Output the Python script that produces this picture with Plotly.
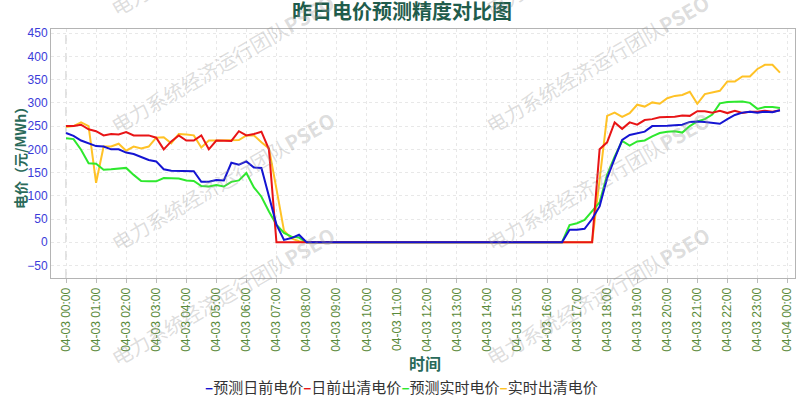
import pandas as pd
import plotly.graph_objects as go

# ---------------- data (15-minute points, 04-03 00:00 .. 23:45) ----------------
times = pd.date_range("2025-04-03 00:00", periods=96, freq="15min")

pred_da = [  # 预测日前电价
    235, 229, 219, 213, 207, 206, 200, 200,
    193, 190, 184, 177, 174, 157, 154, 154,
    154, 153, 130, 130, 134, 133, 171, 167,
    174, 161, 160, 100, 38, 5, 9, 16,
    0, 0, 0, 0, 0, 0, 0, 0,
    0, 0, 0, 0, 0, 0, 0, 0,
    0, 0, 0, 0, 0, 0, 0, 0,
    0, 0, 0, 0, 0, 0, 0, 0,
    0, 0, 0, 27, 27, 29, 50, 77,
    138, 180, 220, 231, 235, 238, 250, 250,
    251, 252, 253, 259, 260, 259, 257, 255,
    265, 274, 279, 281, 279, 281, 280, 284,
]

clear_da = [  # 日前出清电价
    250, 250, 253, 243, 239, 230, 233, 232,
    237, 230, 230, 230, 225, 200, 217, 230,
    219, 219, 230, 200, 219, 219, 218, 239,
    230, 233, 238, 200, 0, 0, 0, 0,
    0, 0, 0, 0, 0, 0, 0, 0,
    0, 0, 0, 0, 0, 0, 0, 0,
    0, 0, 0, 0, 0, 0, 0, 0,
    0, 0, 0, 0, 0, 0, 0, 0,
    0, 0, 0, 0, 0, 0, 0, 200,
    215, 258, 244, 258, 253, 263, 265, 269,
    270, 270, 273, 272, 282, 282, 279, 283,
    278, 283, 278, 281, 281, 283, 281, 284,
]

pred_rt = [  # 预测实时电价
    224, 222, 199, 170, 169, 156, 157, 158,
    160, 145, 132, 131, 131, 138, 138, 137,
    133, 132, 121, 120, 123, 120, 130, 133,
    149, 118, 98, 66, 38, 20, 12, 10,
    0, 0, 0, 0, 0, 0, 0, 0,
    0, 0, 0, 0, 0, 0, 0, 0,
    0, 0, 0, 0, 0, 0, 0, 0,
    0, 0, 0, 0, 0, 0, 0, 0,
    0, 0, 0, 37, 41, 48, 66, 86,
    145, 184, 218, 208, 217, 219, 228, 235,
    238, 239, 236, 250, 260, 265, 275, 299,
    302, 303, 303, 300, 287, 291, 291, 289,
]

clear_rt = [  # 实时出清电价
    248, 250, 258, 250, 128, 206, 206, 212,
    197, 206, 202, 206, 225, 226, 213, 233,
    232, 230, 204, 219, 219, 219, 219, 220,
    230, 230, 215, 202, 115, 25, 8, 2,
    0, 0, 0, 0, 0, 0, 0, 0,
    0, 0, 0, 0, 0, 0, 0, 0,
    0, 0, 0, 0, 0, 0, 0, 0,
    0, 0, 0, 0, 0, 0, 0, 0,
    0, 0, 0, 0, 0, 0, 0, 135,
    272, 279, 270, 278, 296, 292, 301, 298,
    310, 315, 317, 324, 298, 319, 323, 326,
    346, 346, 357, 357, 373, 382, 382, 365,
]

series_names = ["预测日前电价", "日前出清电价", "预测实时电价", "实时出清电价"]
series_colors = ["#1414d2", "#e81416", "#2ee82e", "#ffc226"]
series_values = [pred_da, clear_da, pred_rt, clear_rt]

y_tick_values = [-50, 0, 50, 100, 150, 200, 250, 300, 350, 400, 450]

# ---------------- layout geometry ----------------
W, H = 800, 400
L, R, T, B = 51, 5, 29, 122
PW, PH = W - L - R, H - T - B


def px_x(px):
    return (px - L) / PW


def px_y(py):
    return (H - B - py) / PH


fig = go.Figure()

# draw order: yellow, green, red, blue (blue on top)
for idx in [3, 2, 1, 0]:
    fig.add_trace(go.Scatter(
        x=times, y=series_values[idx], mode="lines", name=series_names[idx],
        line=dict(color=series_colors[idx], width=2), showlegend=False,
        hoverinfo="x+y+name",
    ))

fig.update_layout(
    width=W, height=H,
    margin=dict(l=L, r=R, t=T, b=B),
    paper_bgcolor="white", plot_bgcolor="white",
    font=dict(family="Noto Sans CJK SC, Liberation Sans, sans-serif"),
    title=dict(
        text="<b>昨日电价预测精度对比图</b>",
        x=0.5025, xanchor="center", y=1 - 12 / H, yanchor="middle",
        font=dict(size=20, color="#1f5c4c", family="Noto Sans CJK SC"),
    ),
    showlegend=False,
)

fig.update_xaxes(
    type="date",
    range=[times[0] - pd.Timedelta(minutes=30), times[-1] + pd.Timedelta(minutes=30)],
    tick0=times[0], dtick=3600000, tickformat="%m-%d %H:%M", tickangle=-90,
    tickfont=dict(size=12, color="#5a8a3a", family="Liberation Sans, Arial"),
    ticks="outside", ticklen=4, tickcolor="#bbbbbb",
    showgrid=True, gridcolor="#e8e8e8", griddash="dot", gridwidth=1,
    showline=True, mirror=True, linecolor="#b4b4b4", linewidth=1,
    automargin=False, zeroline=False,
)
fig.update_yaxes(
    range=[-77, 459], tickmode="array", tickvals=y_tick_values,
    tickfont=dict(size=12, color="#3b3bd9", family="Liberation Sans, Arial"),
    ticks="", showgrid=True, gridcolor="#e8e8e8", griddash="dot", gridwidth=1,
    showline=True, mirror=True, linecolor="#b4b4b4", linewidth=1,
    automargin=False, zeroline=False,
)

# dashed marker line at the first time point
fig.add_shape(type="line", xref="x", yref="paper", x0=times[0], x1=times[0], y0=0, y1=1,
              line=dict(color="#c4c4c4", width=1, dash="dash"), layer="below")

annotations = []
# axis titles
annotations.append(dict(
    text="<b>电价（元/MWh）</b>", xref="paper", yref="paper",
    x=px_x(20), y=px_y(155), textangle=-90, showarrow=False,
    xanchor="center", yanchor="middle",
    font=dict(size=14, color="#2a6a5a", family="Noto Sans CJK SC"),
))
annotations.append(dict(
    text="<b>时间</b>", xref="paper", yref="paper",
    x=px_x(425), y=px_y(363), showarrow=False,
    xanchor="center", yanchor="middle",
    font=dict(size=16, color="#2a6a5a", family="Noto Sans CJK SC"),
))

# custom legend (short colored dash + label)
legend_text = "".join(
    f'<span style="color:{c};font-weight:bold">–</span>{n}'
    for n, c in zip(series_names, series_colors)
)
annotations.append(dict(
    text=legend_text, xref="paper", yref="paper",
    x=px_x(401), y=px_y(386), showarrow=False,
    xanchor="center", yanchor="middle",
    font=dict(size=15, color="#333333", family="Noto Sans CJK SC"),
))

# watermarks
wm_text = "电力系统经济运行团队<b>PSEO</b>"
for cx in [222, 597]:
    for cy in [-53, 64, 181, 296]:
        annotations.append(dict(
            text=wm_text, xref="paper", yref="paper",
            x=px_x(cx), y=px_y(cy), showarrow=False, textangle=-30,
            xanchor="center", yanchor="middle",
            font=dict(size=20, color="rgba(150,150,150,0.33)", family="Noto Sans CJK SC"),
        ))

fig.update_layout(annotations=annotations)

fig.write_html("out.html", config={"displayModeBar": False},
               post_script="document.body.style.margin='0';")
